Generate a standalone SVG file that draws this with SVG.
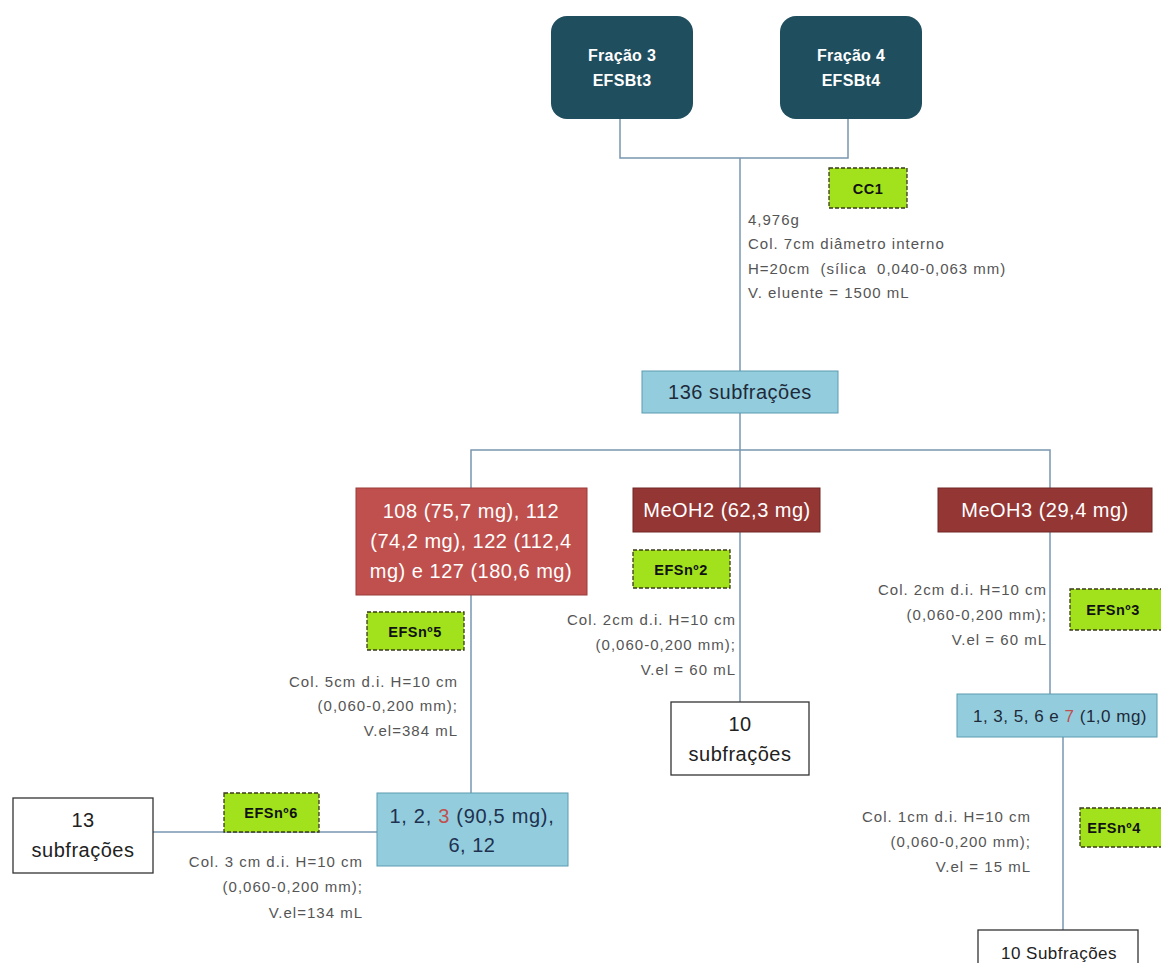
<svg xmlns="http://www.w3.org/2000/svg" width="1161" height="963" viewBox="0 0 1161 963">
<style>
text{font-family:"Liberation Sans",Arial,sans-serif}
.top{fill:#1f4e5f}
.tt{fill:#fff;font-weight:bold;font-size:16px;text-anchor:middle;letter-spacing:0.3px}
.tag{fill:#a2e21c;stroke:#3a3a1a;stroke-width:1.3;stroke-dasharray:4,2}
.tagt{fill:#111;font-weight:bold;font-size:14.5px;text-anchor:middle;letter-spacing:0.5px}
.note{fill:#555;font-size:15px;letter-spacing:1px;white-space:pre}
.r{text-anchor:end}
.blue{fill:#93cddd;stroke:#5a9bb0;stroke-width:1}
.bt{fill:#1e2a3a;font-size:20px;text-anchor:middle;letter-spacing:0.5px}
.red1{fill:#c0504d;stroke:#9a3a38;stroke-width:1}
.red2{fill:#943634;stroke:#6e2624;stroke-width:1}
.wt{fill:#fff;font-size:20px;text-anchor:middle;letter-spacing:0.5px}
.wbox{fill:#fff;stroke:#333;stroke-width:1.3}
.kt{fill:#222;font-size:20px;text-anchor:middle;letter-spacing:0.5px}
.ln{fill:none;stroke:#7896b0;stroke-width:1.5}
</style>
<g id="connectors">
<path class="ln" d="M620,118 V158 H848 V118"/>
<path class="ln" d="M740,158 V371"/>
<path class="ln" d="M740,412 V488"/>
<path class="ln" d="M471,488 V450 H1050 V488"/>
<path class="ln" d="M471,595 V793"/>
<path class="ln" d="M740,532 V702"/>
<path class="ln" d="M1050,532 V694"/>
<path class="ln" d="M1063,737 V930"/>
<path class="ln" d="M153,832 H377"/>
</g>
<g id="fracao3"><rect class="top" x="551" y="16" width="142" height="103" rx="16"/><text class="tt" x="622" y="61">Fração 3</text><text class="tt" x="622" y="86">EFSBt3</text></g>
<g id="fracao4"><rect class="top" x="780" y="16" width="142" height="103" rx="16"/><text class="tt" x="851" y="61">Fração 4</text><text class="tt" x="851" y="86">EFSBt4</text></g>
<g id="cc1"><rect class="tag" x="829" y="168" width="78" height="40"/><text class="tagt" x="868" y="194">CC1</text></g>
<g id="cc1-note"><text class="note" x="748" y="225">4,976g</text><text class="note" x="748" y="249">Col. 7cm diâmetro interno</text><text class="note" x="748" y="274">H=20cm  (sílica  0,040-0,063 mm)</text><text class="note" x="748" y="298">V. eluente = 1500 mL</text></g>
<g id="sub136"><rect class="blue" x="642" y="371" width="196" height="42"/><text class="bt" x="740" y="399">136 subfrações</text></g>
<g id="red"><rect class="red1" x="356" y="488" width="231" height="107"/><text class="wt" x="471" y="518">108 (75,7 mg), 112</text><text class="wt" x="471" y="548">(74,2 mg), 122 (112,4</text><text class="wt" x="471" y="578">mg) e 127 (180,6 mg)</text></g>
<g id="meoh2"><rect class="red2" x="633" y="488" width="187" height="44"/><text class="wt" x="727" y="517">MeOH2 (62,3 mg)</text></g>
<g id="meoh3"><rect class="red2" x="938" y="488" width="214" height="44"/><text class="wt" x="1045" y="517">MeOH3 (29,4 mg)</text></g>
<g id="efs2"><rect class="tag" x="633" y="550" width="97" height="38"/><text class="tagt" x="681" y="575">EFSnº2</text></g>
<g id="efs2-note"><text class="note r" x="736" y="625">Col. 2cm d.i. H=10 cm</text><text class="note r" x="736" y="650">(0,060-0,200 mm);</text><text class="note r" x="736" y="675">V.el = 60 mL</text></g>
<g id="sub10a"><rect class="wbox" x="671" y="702" width="138" height="73"/><text class="kt" x="740" y="731">10</text><text class="kt" x="740" y="761">subfrações</text></g>
<g id="efs3"><rect class="tag" x="1070" y="589" width="95" height="41"/><text class="tagt" x="1113" y="615">EFSnº3</text></g>
<g id="efs3-note"><text class="note r" x="1047" y="595">Col. 2cm d.i. H=10 cm</text><text class="note r" x="1047" y="620">(0,060-0,200 mm);</text><text class="note r" x="1047" y="645">V.el = 60 mL</text></g>
<g id="b1357"><rect class="blue" x="957" y="694" width="200" height="43"/><text class="bt" x="1060" y="722" style="font-size:17px">1, 3, 5, 6 e <tspan fill="#c0504d">7</tspan> (1,0 mg)</text></g>
<g id="efs4"><rect class="tag" x="1080" y="808" width="85" height="39"/><text class="tagt" x="1114" y="833">EFSnº4</text></g>
<g id="efs4-note"><text class="note r" x="1031" y="822">Col. 1cm d.i. H=10 cm</text><text class="note r" x="1031" y="847">(0,060-0,200 mm);</text><text class="note r" x="1031" y="872">V.el = 15 mL</text></g>
<g id="sub10b"><rect class="wbox" x="978" y="930" width="160" height="40"/><text class="kt" x="1059" y="959" style="font-size:17px">10 Subfrações</text></g>
<g id="efs5"><rect class="tag" x="367" y="612" width="97" height="38"/><text class="tagt" x="415" y="637">EFSnº5</text></g>
<g id="efs5-note"><text class="note r" x="458" y="687">Col. 5cm d.i. H=10 cm</text><text class="note r" x="458" y="711">(0,060-0,200 mm);</text><text class="note r" x="458" y="736">V.el=384 mL</text></g>
<g id="b123"><rect class="blue" x="377" y="793" width="191" height="73"/><text class="bt" x="472" y="823" style="fill:#1f3150;letter-spacing:0.7px">1, 2, <tspan fill="#c0504d">3</tspan> (90,5 mg),</text><text class="bt" x="472" y="852" style="fill:#1f3150">6, 12</text></g>
<g id="efs6"><rect class="tag" x="224" y="793" width="95" height="39"/><text class="tagt" x="271" y="818">EFSnº6</text></g>
<g id="efs6-note"><text class="note r" x="363" y="867">Col. 3 cm d.i. H=10 cm</text><text class="note r" x="363" y="892">(0,060-0,200 mm);</text><text class="note r" x="363" y="918">V.el=134 mL</text></g>
<g id="sub13"><rect class="wbox" x="13" y="798" width="140" height="75"/><text class="kt" x="83" y="827">13</text><text class="kt" x="83" y="857">subfrações</text></g>
</svg>
